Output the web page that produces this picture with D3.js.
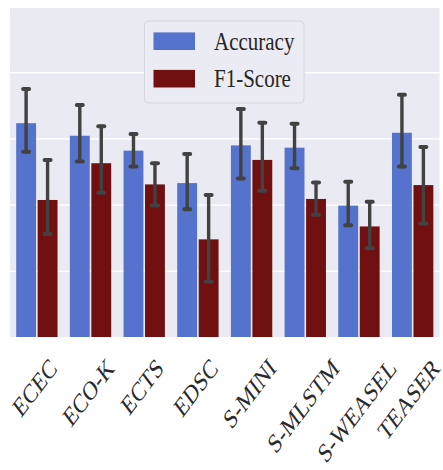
<!DOCTYPE html>
<html>
<head>
<meta charset="utf-8">
<script src="https://cdn.jsdelivr.net/npm/d3@7"></script>
<style>
  html, body { margin: 0; padding: 0; background: #fff; }
  svg { display: block; }
</style>
</head>
<body>
<svg id="chart" width="443" height="470"></svg>
<script>
// Per-method scores with their confidence intervals
const categories = ["ECEC", "ECO-K", "ECTS", "EDSC", "S-MINI", "S-MLSTM", "S-WEASEL", "TEASER"];
const accuracy   = [0.646, 0.608, 0.563, 0.465, 0.579, 0.572, 0.397, 0.617];
const accLow     = [0.560, 0.530, 0.515, 0.386, 0.479, 0.510, 0.338, 0.515];
const accHigh    = [0.749, 0.701, 0.613, 0.553, 0.689, 0.644, 0.469, 0.732];
const f1Score    = [0.414, 0.525, 0.461, 0.295, 0.535, 0.417, 0.334, 0.459];
const f1Low      = [0.311, 0.436, 0.397, 0.167, 0.442, 0.369, 0.268, 0.343];
const f1High     = [0.535, 0.637, 0.525, 0.429, 0.647, 0.467, 0.409, 0.574];
const seriesNames = ["Accuracy", "F1-Score"];
const gridValues  = [0.2, 0.4, 0.6, 0.8];

const colors = { "Accuracy": "#5573CD", "F1-Score": "#701010" };
const FONT = "'Liberation Serif', 'Times New Roman', serif";
const stretch = 1.32;  // vertical text scaling of the figure

const plot = { left: 10, right: 439.5, top: 8, bottom: 337 };

const svg = d3.select("#chart");

const x = d3.scaleBand()
  .domain(categories)
  .range([plot.left, plot.right])
  .paddingInner(0).paddingOuter(0);

const x1 = d3.scaleBand()
  .domain(seriesNames)
  .range([0, x.bandwidth()])
  .paddingOuter(0.25).paddingInner(0);

const y = d3.scaleLinear()
  .domain([0, 0.994])
  .range([plot.bottom, plot.top]);

// Plot background
svg.append("rect")
  .attr("x", plot.left).attr("y", plot.top)
  .attr("width", plot.right - plot.left)
  .attr("height", plot.bottom - plot.top)
  .attr("fill", "#EAEAF2");

// Horizontal white grid
svg.append("g")
  .attr("transform", `translate(${plot.left},0)`)
  .call(d3.axisLeft(y).tickValues(gridValues).tickSize(-(plot.right - plot.left)).tickFormat(""))
  .call(g => g.select(".domain").remove())
  .call(g => g.selectAll(".tick line").attr("stroke", "#fff").attr("stroke-width", 1.4));

const rows = categories.map((c, i) => ({
  cat: c,
  values: [
    { series: "Accuracy", v: accuracy[i], lo: accLow[i], hi: accHigh[i] },
    { series: "F1-Score", v: f1Score[i], lo: f1Low[i], hi: f1High[i] }
  ]
}));

const groups = svg.append("g").selectAll("g")
  .data(rows).join("g")
  .attr("transform", d => `translate(${x(d.cat)},0)`);

const gap = 0.8;
groups.selectAll("rect")
  .data(d => d.values).join("rect")
  .attr("x", d => x1(d.series) + gap)
  .attr("width", x1.bandwidth() - 2 * gap)
  .attr("y", d => y(d.v))
  .attr("height", d => y(0) - y(d.v))
  .attr("fill", d => colors[d.series]);

// Error bars
const err = groups.selectAll("g.err")
  .data(d => d.values).join("g").attr("class", "err")
  .attr("stroke", "#424242").attr("stroke-linecap", "round");

const cx = d => x1(d.series) + x1.bandwidth() / 2;
err.append("line")
  .attr("x1", cx).attr("x2", cx)
  .attr("y1", d => y(d.lo)).attr("y2", d => y(d.hi))
  .attr("stroke-width", 3.4);
err.selectAll("line.cap")
  .data(d => [{ d, v: d.lo }, { d, v: d.hi }]).join("line").attr("class", "cap")
  .attr("x1", e => cx(e.d) - 3).attr("x2", e => cx(e.d) + 3)
  .attr("y1", e => y(e.v)).attr("y2", e => y(e.v))
  .attr("stroke-width", 4);

// Rotated category labels (box centred under each group, top aligned)
const labelSize = 20.5;
const labelTop = 357;
const labels = svg.append("g").selectAll("text")
  .data(categories).join("text")
  .attr("text-anchor", "middle")
  .attr("dy", "0.33em")
  .attr("font-family", FONT)
  .attr("font-size", labelSize)
  .attr("fill", "#2a2a2a")
  .text(d => d);
labels.each(function (d) {
  const w = this.getComputedTextLength();
  const half = (w + 0.66 * labelSize) * Math.SQRT1_2 / 2;
  const cxp = Math.min(x(d) + x.bandwidth() / 2 - 2, 441 - half);
  const cyp = labelTop + half * stretch;
  d3.select(this).attr("transform", `translate(${cxp},${cyp}) scale(1,${stretch}) rotate(-45)`);
});

// Legend
const legend = svg.append("g");
legend.append("rect")
  .attr("x", 144.5).attr("y", 21).attr("width", 159.5).attr("height", 82)
  .attr("rx", 4).attr("fill", "#EBEBF3").attr("stroke", "#D6D6DE").attr("stroke-width", 1);
const items = legend.selectAll("g.item")
  .data(seriesNames).join("g").attr("class", "item")
  .attr("transform", (d, i) => `translate(0,${41.2 + i * 37.5})`);
items.append("rect")
  .attr("x", 153.5).attr("y", -8.8).attr("width", 41.5).attr("height", 17.6)
  .attr("fill", d => colors[d]);
items.append("text")
  .attr("transform", `translate(214,0) scale(1,1.22)`)
  .attr("dy", "0.33em")
  .attr("font-family", FONT)
  .attr("font-size", 21)
  .attr("fill", "#262626")
  .text(d => d);
</script>
</body>
</html>
